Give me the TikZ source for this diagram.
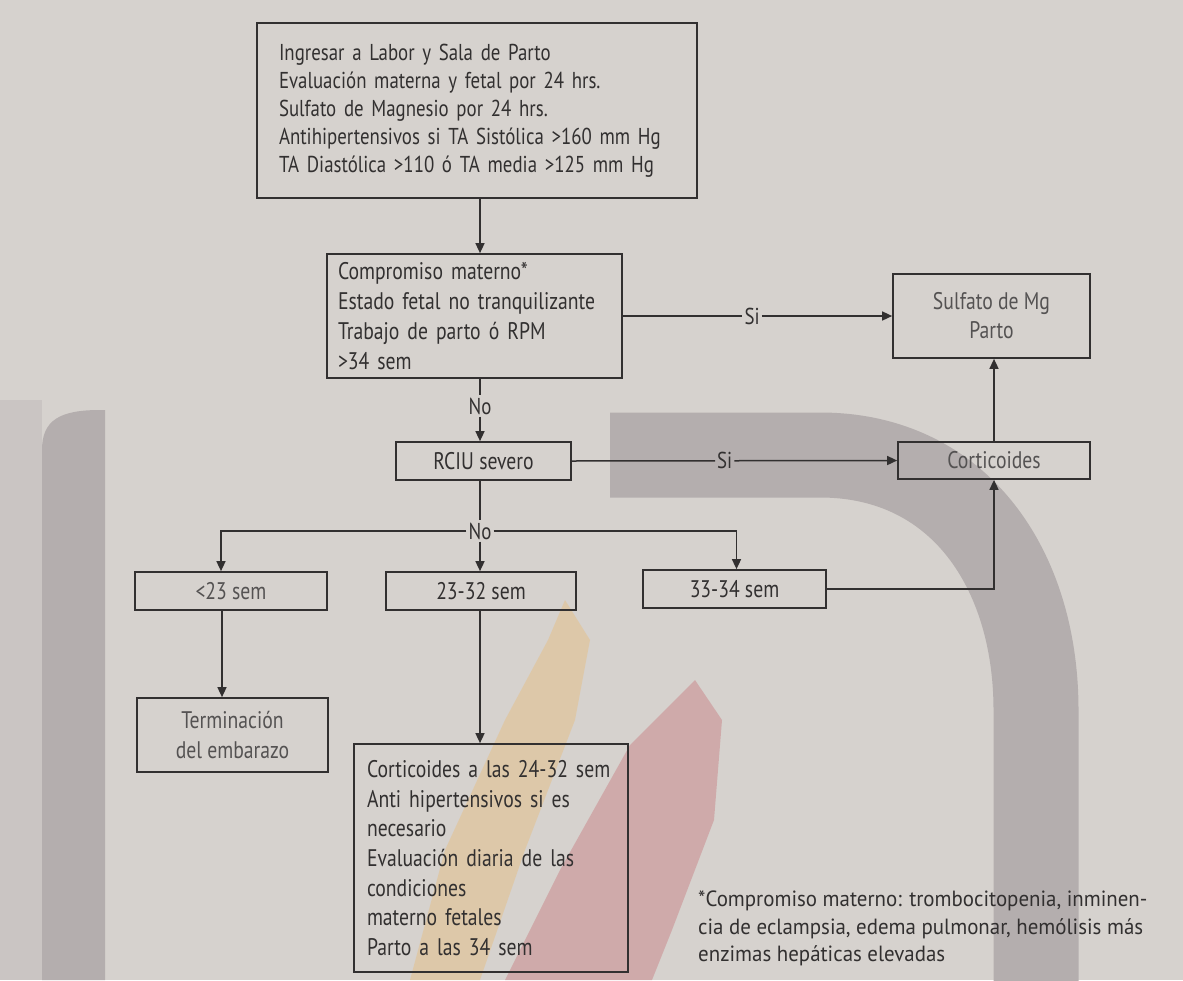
\documentclass[tikz,border=0pt]{standalone}
\usepackage{fontspec}
\setmainfont{PT Sans}[FakeStretch=0.82]
\newfontfamily\notafont{PT Sans}[FakeStretch=0.95]
\usetikzlibrary{arrows.meta,calc}
\definecolor{bg}{RGB}{214,210,206}
\definecolor{ink}{RGB}{50,48,48}
\definecolor{soft}{RGB}{84,82,82}
\definecolor{band}{RGB}{180,174,174}
\definecolor{ocre}{RGB}{226,196,150}
\definecolor{rosa}{RGB}{204,150,152}
\tikzset{
  box/.style={draw=ink,line width=1.7pt,text=ink,inner sep=0pt,font=\fontsize{24}{29}\selectfont},
  listbox/.style={box,align=left},
  arr/.style={draw=ink,line width=1.5pt,-{Triangle[length=10pt,width=9pt]}},
  seg/.style={draw=ink,line width=1.5pt},
  lbl/.style={inner sep=2pt,text=ink,font=\fontsize{23}{26}\selectfont}
}
\begin{document}
\begin{tikzpicture}[x=1pt,y=-1pt]
\fill[bg] (0,0) rectangle (1183,980);
\useasboundingbox (0,0) rectangle (1183,980);
% page showing through
\fill[band!35!bg] (0,400) rectangle (42,980);
\fill[band] (42,980) -- (42,450) .. controls (42,420) and (60,410) .. (100,410) -- (105,410) -- (105,980) -- cycle;
\draw[band,line width=85pt] (610,455) -- (820,455) .. controls (960,455) and (1036,570) .. (1036,710) -- (1036,990);
\fill[ocre,opacity=0.65] (565,600) -- (590,640) -- (575,720) -- (525,850) -- (480,980) -- (410,980) -- (445,850) -- (505,720) -- (548,640) -- cycle;
\fill[rosa,opacity=0.65] (695,680) -- (722,720) -- (714,820) -- (672,930) -- (652,980) -- (505,980) -- (560,870) -- (630,745) -- cycle;
% boxes
\node[listbox,minimum width=440,minimum height=175,text width=396,font=\fontsize{23}{28}\selectfont] (ingreso) at (477,110.5)
 {Ingresar a Labor y Sala de Parto\\Evaluación materna y fetal por 24 hrs.\\Sulfato de Magnesio por 24 hrs.\\Antihipertensivos si TA Sistólica >160 mm Hg\\TA Diastólica >110 ó TA media >125 mm Hg};
\node[listbox,minimum width=295,minimum height=124,text width=273,font=\fontsize{24}{30}\selectfont] (compromiso) at (474.5,316)
 {Compromiso materno*\\Estado fetal no tranquilizante\\Trabajo de parto ó RPM\\>34 sem};
\node[box,align=center,minimum width=197,minimum height=84,text=soft] (sulfato) at (991.5,316) {Sulfato de Mg\\Parto};
\node[box,minimum width=175,minimum height=38] (rciu) at (483.5,461) {RCIU severo};
\node[box,minimum width=192,minimum height=37,text=soft] (cortic) at (994,460.5) {Corticoides};
\node[box,minimum width=192,minimum height=38,text=soft] (menos) at (231,591) {<23 sem};
\node[box,minimum width=190,minimum height=38] (medio) at (481,591) {23-32 sem};
\node[box,minimum width=183,minimum height=38] (mayor) at (734.5,589) {33-34 sem};
\node[box,align=center,minimum width=191,minimum height=74,text=soft,font=\fontsize{24}{30}\selectfont] (termina) at (232.5,735) {Terminación\\del embarazo};
\node[listbox,minimum width=274,minimum height=228,text width=248,font=\fontsize{24}{29.6}\selectfont] (manejo) at (491,858)
 {Corticoides a las 24-32 sem\\Anti hipertensivos si es\\necesario\\Evaluación diaria de las\\condiciones\\materno fetales\\Parto a las 34 sem};
% labels on the connectors
\coordinate (col) at (480,0);
\node[lbl] (si1) at ($(compromiso.east)!0.48!(sulfato.west)$) {Si};
\node[lbl] (no1) at (480,406) {No};
\node[lbl] (si2) at ($(rciu.east)!0.47!(cortic.west)$) {Si};
\node[lbl] (no2) at (480,531) {No};
% connectors
\draw[arr] (ingreso.south -| col) -- (compromiso.north -| col);
\draw[seg] (compromiso.east) -- (si1); \draw[arr] (si1) -- (sulfato.west);
\draw[seg] (compromiso.south -| col) -- (no1); \draw[arr] (no1) -- (rciu.north -| col);
\draw[seg] (rciu.east) -- (si2); \draw[arr] (si2) -- (cortic.west);
\draw[seg] (rciu.south -| col) -- (no2);
\draw[arr] (no2.west) -| ([xshift=-10pt]menos.north);
\draw[arr] (no2) -- (medio.north -| col);
\draw[arr] (no2.east) -| ([xshift=2pt]mayor.north);
\draw[arr] ([xshift=-9pt]menos.south) -- ([xshift=-9pt]menos.south |- termina.north);
\draw[arr] (medio.south -| col) -- (manejo.north -| col);
\draw[arr] (mayor.east) -| (cortic.south);
\draw[arr] (cortic.north) -- (cortic.north |- sulfato.south);
% nota
\node[anchor=north west,align=left,inner sep=0pt,text=ink,font=\notafont\fontsize{22}{27.5}\selectfont] (nota) at (698,891)
 {*Compromiso materno: trombocitopenia, inminen-\\cia de eclampsia, edema pulmonar, hemólisis más\\enzimas hepáticas elevadas};
\end{tikzpicture}
\end{document}
